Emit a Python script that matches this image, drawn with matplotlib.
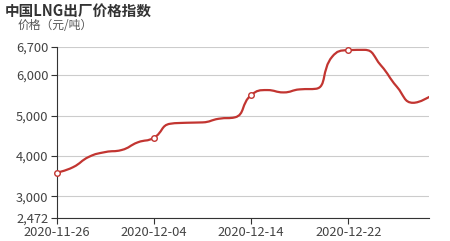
import matplotlib.pyplot as plt
import numpy as np
from matplotlib.path import Path
from matplotlib.patches import PathPatch
from matplotlib.ticker import FuncFormatter

plt.rcParams['font.family'] = ['Noto Sans CJK SC', 'DejaVu Sans']

dates = ['2020-11-26', '2020-11-27', '2020-11-30', '2020-12-01', '2020-12-02', '2020-12-03',
         '2020-12-04', '2020-12-07', '2020-12-08', '2020-12-09', '2020-12-10', '2020-12-11',
         '2020-12-14', '2020-12-15', '2020-12-16', '2020-12-17', '2020-12-18', '2020-12-21',
         '2020-12-22', '2020-12-23', '2020-12-24', '2020-12-25', '2020-12-28', '2020-12-29']
prices = [3585, 3720, 3980, 4096, 4146, 4336,
          4450, 4796, 4821, 4830, 4920, 4955,
          5506, 5630, 5572, 5647, 5662, 6453,
          6618, 6625, 6247, 5711, 5315, 5464]
y_ticks = [2472, 3000, 4000, 5000, 6000, 6700]
label_idx = [0, 6, 12, 18]

fig = plt.figure(figsize=(4.5, 2.41), dpi=100)
ax = fig.add_axes([0.126, 0.0967, 0.828, 0.709])
x = np.arange(len(prices))
ax.set_xlim(0, len(prices) - 1)
ax.set_ylim(2472, 6700)

# smooth line, echarts style: bezier control points clamped to each segment (pixel space)
pts = ax.transData.transform(np.column_stack([x, prices]))
n = len(pts)
smooth = 0.5
cp_in = [pts[0].copy()]
cp_out = []
for i in range(n):
    p = pts[i]
    if i == 0 or i == n - 1:
        cp_out.append(p.copy())
        if i == n - 1:
            cp_in.append(p.copy())
        continue
    prev, nxt = pts[i - 1], pts[i + 1]
    v = nxt - prev
    d0 = np.hypot(*(p - prev))
    d1 = np.hypot(*(nxt - p))
    ratio = d1 / (d0 + d1)
    c_next = p + v * smooth * ratio
    c_next = np.clip(c_next, np.minimum(p, nxt), np.maximum(p, nxt))
    c_prev = p - (c_next - p) * d0 / d1
    c_prev = np.clip(c_prev, np.minimum(prev, p), np.maximum(prev, p))
    c_next = p + (p - c_prev) * d1 / d0
    cp_in.append(c_prev)
    cp_out.append(c_next)
verts = [pts[0]]
codes = [Path.MOVETO]
for i in range(n - 1):
    verts += [cp_out[i], cp_in[i + 1], pts[i + 1]]
    codes += [Path.CURVE4] * 3
verts = ax.transData.inverted().transform(np.array(verts))
ax.add_patch(PathPatch(Path(verts, codes), fill=False, edgecolor='#c23531', lw=1.6, zorder=3))

ax.plot([x[i] for i in label_idx], [prices[i] for i in label_idx], 'o', ms=4,
        mfc='white', mec='#c23531', mew=1, zorder=4, clip_on=False)

ax.set_yticks(y_ticks)
ax.yaxis.set_major_formatter(FuncFormatter(lambda v, p: f'{int(v):,}'))
ax.set_xticks(label_idx)
ax.set_xticklabels([dates[i] for i in label_idx])
ax.grid(axis='y', color='#cccccc', lw=0.8)
ax.set_axisbelow(True)
for s in ['top', 'right']:
    ax.spines[s].set_visible(False)
ax.spines['left'].set_color('#333333')
ax.spines['bottom'].set_color('#333333')
ax.tick_params(colors='#333333', labelcolor='#444444', labelsize=9.3, length=4, width=0.8, pad=2)

fig.text(0.011, 0.955, '中国LNG出厂价格指数', fontsize=10.5, fontweight='bold', color='#333333', va='center')
fig.text(0.04, 0.893, '价格（元/吨）', fontsize=8.5, color='#555555', va='center')

fig.savefig('out.png', dpi=100)
